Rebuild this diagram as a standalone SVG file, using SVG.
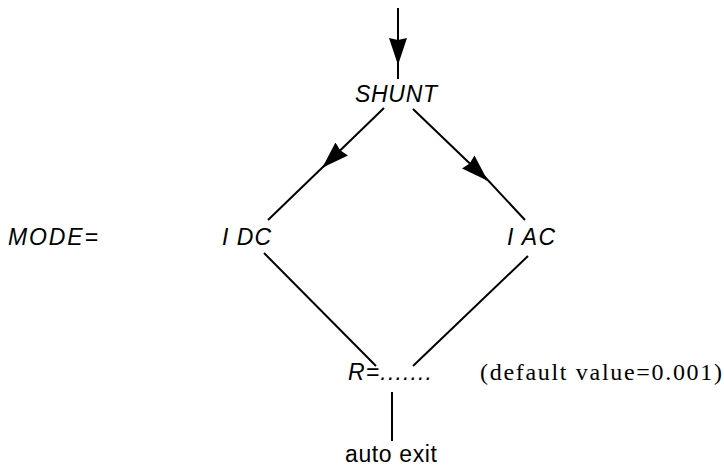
<svg xmlns="http://www.w3.org/2000/svg" width="724" height="467" viewBox="0 0 724 467">
<style>
.sans{font-family:"Liberation Sans",Arial,sans-serif;fill:#000;font-size:23px}
.it{font-style:italic}
.serif{font-family:"Liberation Serif","Times New Roman",serif;fill:#000;font-size:24px}
.ln{stroke:#000;stroke-width:2;fill:none}
</style>
<defs>
<marker id="ah" markerWidth="28" markerHeight="22" viewBox="0 0 28 22" refX="26" refY="11" orient="auto" markerUnits="userSpaceOnUse">
<path d="M0,2 L27,11 L0,20 L2,11 Z" fill="#000"/>
</marker>
</defs>
<rect width="724" height="467" fill="#fff"/>
<g id="connectors">
<path class="ln" d="M398,8 L398,64" marker-end="url(#ah)"/>
<path class="ln" d="M398,60 L398,79"/>
<path class="ln" d="M384,108 L323,167" marker-end="url(#ah)"/>
<path class="ln" d="M326,164 L268,220"/>
<path class="ln" d="M413,109 L487,180" marker-end="url(#ah)"/>
<path class="ln" d="M484,176 L525,220"/>
<path class="ln" d="M264,253 L376,366"/>
<path class="ln" d="M528,256 L413,366"/>
<path class="ln" d="M392,392 L392,441"/>
</g>
<g id="node-shunt"><text class="sans it" x="355" y="102" textLength="82">SHUNT</text></g>
<g id="label-mode"><text class="sans it" x="8" y="245" textLength="90">MODE=</text></g>
<g id="node-idc"><text class="sans it" x="222" y="245" textLength="49">I DC</text></g>
<g id="node-iac"><text class="sans it" x="507" y="245" textLength="48">I AC</text></g>
<g id="node-r"><text class="sans it" x="348" y="380" textLength="84">R=.......</text></g>
<g id="note-default"><text class="serif" x="480" y="380" textLength="242">(default value=0.001)</text></g>
<g id="node-exit"><text class="sans" x="345" y="462" textLength="92">auto exit</text></g>
</svg>
